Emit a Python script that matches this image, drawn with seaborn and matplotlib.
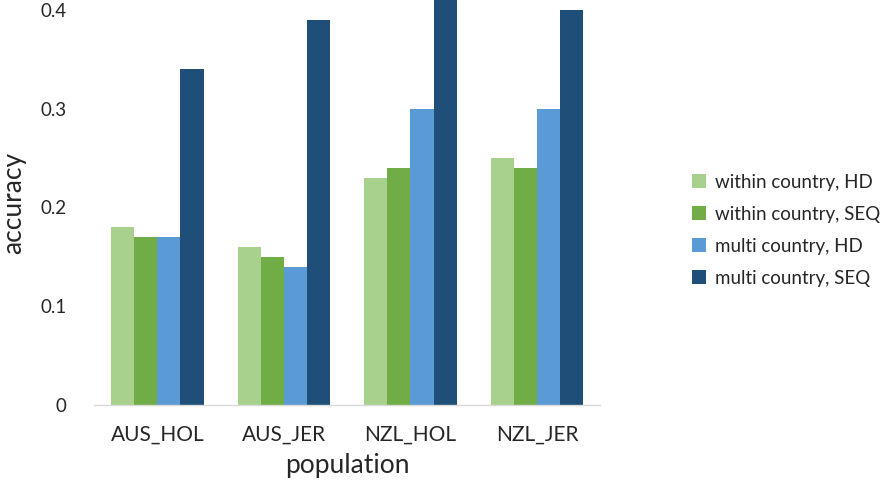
import pandas as pd
import matplotlib
matplotlib.use("Agg")
import matplotlib.pyplot as plt
import seaborn as sns

sns.set_style("white")
plt.rcParams["font.family"] = ["Lato", "DejaVu Sans"]

# Values.
populations = ["AUS_HOL", "AUS_JER", "NZL_HOL", "NZL_JER"]
methods = ["within country, HD", "within country, SEQ", "multi country, HD", "multi country, SEQ"]
within_hd = [0.18, 0.16, 0.23, 0.25]
within_seq = [0.17, 0.15, 0.24, 0.24]
multi_hd = [0.17, 0.14, 0.30, 0.30]
multi_seq = [0.34, 0.39, 0.41, 0.40]
colors = ["#A9D18E", "#70AD47", "#5B9BD5", "#1F4E79"]

rows = []
for method, vals in zip(methods, [within_hd, within_seq, multi_hd, multi_seq]):
    for pop, v in zip(populations, vals):
        rows.append({"population": pop, "method": method, "accuracy": v})
df = pd.DataFrame(rows)

fig = plt.figure(figsize = (8.96, 4.88), dpi = 100)
ax = fig.add_axes([0.105, 0.17, 0.565, 0.83])

sns.barplot(data = df, x = "population", y = "accuracy", hue = "method",
            hue_order = methods, order = populations, palette = colors,
            saturation = 1, width = 0.73, gap = 0, linewidth = 0, ax = ax)

ax.set_ylim(0, 0.41)
ax.set_xlim(-0.5, 3.5)
ax.set_yticks([0, 0.1, 0.2, 0.3, 0.4])
ax.set_yticklabels(["0", "0.1", "0.2", "0.3", "0.4"])
ax.tick_params(axis = "y", length = 0, pad = 20, labelsize = 13.5)
ax.tick_params(axis = "x", length = 0, pad = 14, labelsize = 15)

for s in ["top", "right", "left"]:
    ax.spines[s].set_visible(False)
ax.spines["bottom"].set_color("#D9D9D9")
ax.spines["bottom"].set_linewidth(1)

ax.set_xlabel("population", fontsize = 19, labelpad = 6)
ax.set_ylabel("accuracy", fontsize = 19, labelpad = 10)

ax.legend(loc = "center left", bbox_to_anchor = (0.772, 0.528), bbox_transform = fig.transFigure,
          frameon = False, fontsize = 13.5, handlelength = 0.75, handleheight = 0.75,
          handletextpad = 0.5, labelspacing = 0.8, borderpad = 0, borderaxespad = 0)

plt.savefig("out.png", dpi = 100)
